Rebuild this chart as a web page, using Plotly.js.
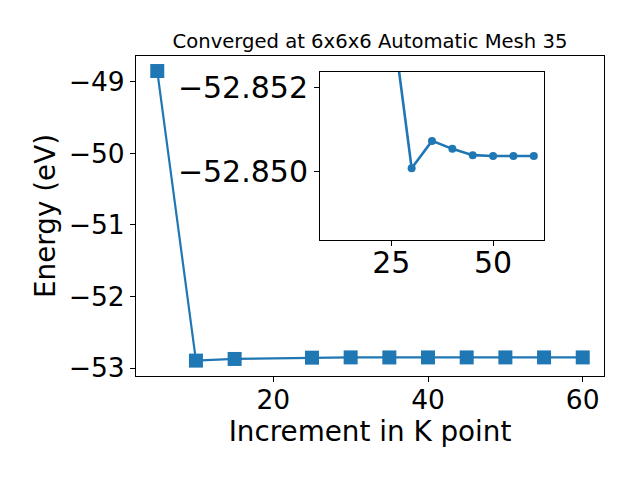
<!DOCTYPE html>
<html>
<head>
<meta charset="utf-8">
<script src="https://cdn.plot.ly/plotly-3.0.1.min.js"></script>
<style>html,body{margin:0;padding:0;background:#fff;}#chart{width:640px;height:480px;}</style>
</head>
<body>
<div id="chart"></div>
<script>
// Main series: energy vs increment in K point
var kPoints = [5, 10, 15, 25, 30, 35, 40, 45, 50, 55, 60];
var energy = [-48.85, -52.895, -52.872, -52.8538, -52.85007, -52.85072, -52.85053, -52.85038, -52.85036, -52.85036, -52.85036];
// Inset series (zoomed view, starting at K = 10)
var insetK = [10, 15, 25, 30, 35, 40, 45, 50, 55, 60];
var insetEnergy = [-52.895, -52.872, -52.8538, -52.85007, -52.85072, -52.85053, -52.85038, -52.85036, -52.85036, -52.85036];

var mainXTicks = [20, 40, 60];
var mainXTickText = ['20', '40', '60'];
var mainYTicks = [-53, -52, -51, -50, -49];
var mainYTickText = ['\u221253', '\u221252', '\u221251', '\u221250', '\u221249'];
var insetXTicks = [25, 50];
var insetXTickText = ['25', '50'];
var insetYTicks = [-52.852, -52.850];
var insetYTickText = ['\u221252.852', '\u221252.850'];

var blue = '#1f77b4';
var font = 'DejaVu Sans, sans-serif';

var traces = [
  {
    x: kPoints, y: energy, type: 'scatter', mode: 'lines+markers',
    xaxis: 'x', yaxis: 'y',
    line: {color: blue, width: 2.2},
    marker: {symbol: 'square', size: 14, color: blue},
    cliponaxis: true, showlegend: false
  },
  {
    x: insetK, y: insetEnergy, type: 'scatter', mode: 'lines+markers',
    xaxis: 'x2', yaxis: 'y2',
    line: {color: blue, width: 2.6},
    marker: {symbol: 'circle', size: 8, color: blue},
    cliponaxis: true, showlegend: false
  }
];

var axisCommon = {
  showgrid: false, zeroline: false, showline: true, mirror: true,
  linecolor: '#000', linewidth: 1, ticks: 'outside', ticklen: 5,
  tickwidth: 1, tickcolor: '#000', automargin: false
};

var layout = {
  width: 640, height: 480,
  margin: {l: 0, r: 0, t: 0, b: 0},
  paper_bgcolor: '#fff', plot_bgcolor: '#fff',
  font: {family: font, color: '#000'},
  showlegend: false,
  title: {
    text: 'Converged at 6x6x6 Automatic Mesh 35',
    font: {family: font, size: 19.6, color: '#000'},
    x: 370 / 640, xanchor: 'center', xref: 'paper',
    y: 1 - 41 / 480, yanchor: 'middle', yref: 'paper'
  },
  xaxis: Object.assign({}, axisCommon, {
    domain: [136 / 640, 604 / 640], anchor: 'y',
    range: [2.25, 62.75],
    tickmode: 'array', tickvals: mainXTicks, ticktext: mainXTickText,
    tickfont: {family: font, size: 26.5},
    ticklabelstandoff: -5,
    title: {text: 'Increment in K point', font: {family: font, size: 27.8}, standoff: 4}
  }),
  yaxis: Object.assign({}, axisCommon, {
    domain: [1 - 376 / 480, 1 - 56 / 480], anchor: 'x',
    range: [-53.11, -48.64],
    tickmode: 'array', tickvals: mainYTicks, ticktext: mainYTickText,
    tickfont: {family: font, size: 26.5},
    title: {text: 'Energy (eV)', font: {family: font, size: 27.8}, standoff: 5}
  }),
  xaxis2: Object.assign({}, axisCommon, {
    domain: [0.5, 0.85], anchor: 'y2',
    range: [7.5, 62.5],
    tickmode: 'array', tickvals: insetXTicks, ticktext: insetXTickText,
    tickfont: {family: font, size: 30},
    ticklabelstandoff: -9
  }),
  yaxis2: Object.assign({}, axisCommon, {
    domain: [0.5, 0.85], anchor: 'x2',
    range: [-52.84836, -52.85236],
    tickmode: 'array', tickvals: insetYTicks, ticktext: insetYTickText,
    tickfont: {family: font, size: 30}
  })
};

Plotly.newPlot('chart', traces, layout, {displayModeBar: false, staticPlot: true});
</script>
</body>
</html>
